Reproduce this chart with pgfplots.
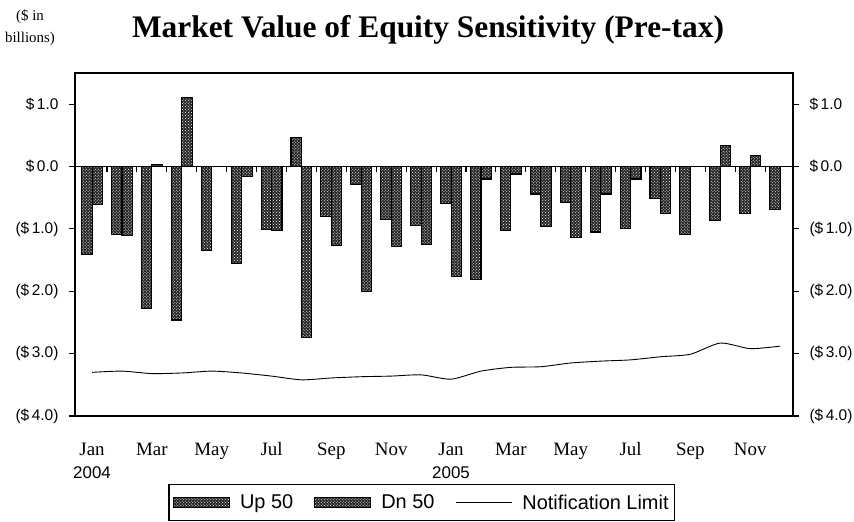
\documentclass[border=0pt]{standalone}
\usepackage{fontspec}
\setmainfont{Liberation Serif}
\setsansfont{Liberation Sans}
\usepackage{pgfplots}
\usepackage{pgfplotstable}
\pgfplotsset{compat=1.18}
\usetikzlibrary{patterns}

\pgfplotstableread{
x up dn lim
0  -1.41 -0.61 -3.30
1  -1.09 -1.11 -3.28
2  -2.28  0.04 -3.32
3  -2.46  1.10 -3.31
4  -1.35  0.00 -3.28
5  -1.56 -0.16 -3.31
6  -1.01 -1.02 -3.36
7   0.46 -2.74 -3.42
8  -0.80 -1.27 -3.39
9  -0.29 -2.00 -3.37
10 -0.85 -1.28 -3.36
11 -0.95 -1.25 -3.34
12 -0.59 -1.76 -3.41
13 -1.81 -0.20 -3.28
14 -1.02 -0.12 -3.22
15 -0.44 -0.96 -3.21
16 -0.57 -1.14 -3.15
17 -1.05 -0.44 -3.12
18 -1.00 -0.20 -3.10
19 -0.51 -0.76 -3.05
20 -1.09  0.00 -3.01
21 -0.87  0.34 -2.83
22 -0.76  0.18 -2.92
23 -0.69  0.00 -2.88
}\datatable

\pgfplotsset{
  commonaxis/.style={
    at={(75bp,106bp)}, anchor=south west,
    scale only axis, width=718bp, height=343bp,
    xmin=-0.57, xmax=23.43, ymin=-4, ymax=1.5,
    ytick={-4,-3,-2,-1,0,1},
    yticklabels={(\$\,4.0),(\$\,3.0),(\$\,2.0),(\$\,1.0),\$\,0.0,\$\,1.0},
    yticklabel style={font=\sffamily\fontsize{15.5}{15.5}\selectfont},
    tick align=outside, major tick length=6bp,
    every tick/.style={black, line width=1.1bp},
    axis line style={line width=1.3bp},
  },
  barstyle/.style={draw=black, line width=1.1bp, fill=black!85,
    postaction={pattern=crosshatch dots, pattern color=white}},
  barlegend/.style={legend image code/.code={\draw[##1] (0bp,-5bp) rectangle (56bp,5bp);}},
  linelegend/.style={legend image code/.code={\draw[##1] (0bp,0bp) -- (56bp,0bp);}},
}

\begin{document}
\begin{tikzpicture}
\useasboundingbox (0,0) rectangle (854bp,522bp);
\node[anchor=base, font=\bfseries\fontsize{31.5}{31.5}\selectfont] at (428bp,484bp)
  {Market Value of Equity Sensitivity (Pre-tax)};
\node[align=center, font=\fontsize{15}{22}\selectfont] at (30bp,494bp)
  {(\$ in\\billions)};

\begin{axis}[commonaxis,
  ytick pos=left,
  yticklabel style={xshift=-7bp},
  xtick={0,2,...,22},
  xticklabels={Jan,Mar,May,Jul,Sep,Nov,Jan,Mar,May,Jul,Sep,Nov},
  xticklabel style={font=\fontsize{19}{19}\selectfont, anchor=north,
    text height=13bp, text depth=3bp, yshift=-17bp},
  extra x ticks={0,12},
  extra x tick labels={2004,2005},
  extra x tick style={xticklabel style={font=\sffamily\fontsize{17}{17}\selectfont,
    text height=12bp, yshift=-24bp}},
  x tick style={draw=none},
  legend style={at={(axis description cs:0.483,0)}, anchor=north, yshift=-68bp,
    draw=black, line width=1.2bp,
    font=\sffamily\fontsize{20}{20}\selectfont,
    inner xsep=4bp, inner ysep=8bp},
  legend columns=-1,
  legend cell align=left,
  /tikz/every odd column/.append style={column sep=8bp},
  /tikz/every even column/.append style={column sep=19bp},
]
\addplot[ybar, bar width=0.35, bar shift=-0.175, barstyle, barlegend]
  table[x=x, y=up] {\datatable};
\addlegendentry{Up 50}
\addplot[ybar, bar width=0.35, bar shift=0.175, barstyle, barlegend]
  table[x=x, y=dn] {\datatable};
\addlegendentry{Dn 50}
\addplot[black, line width=0.9bp, mark=none, smooth, tension=0.4, linelegend]
  table[x=x, y=lim] {\datatable};
\addlegendentry{Notification Limit}
\draw[line width=1.3bp] ({rel axis cs:0,0}|-{axis cs:0,0}) -- ({rel axis cs:1,0}|-{axis cs:0,0});
\pgfplotsinvokeforeach{0.5,1.5,...,22.5}{
  \draw[line width=1.1bp] (axis cs:#1,0) -- ([yshift=-5bp]axis cs:#1,0);
}
\end{axis}

\begin{axis}[commonaxis,
  axis x line=none, axis y line*=right,
  yticklabel style={xshift=7bp},
]
\addplot[draw=none] coordinates {(0,0)};
\end{axis}
\end{tikzpicture}
\end{document}
